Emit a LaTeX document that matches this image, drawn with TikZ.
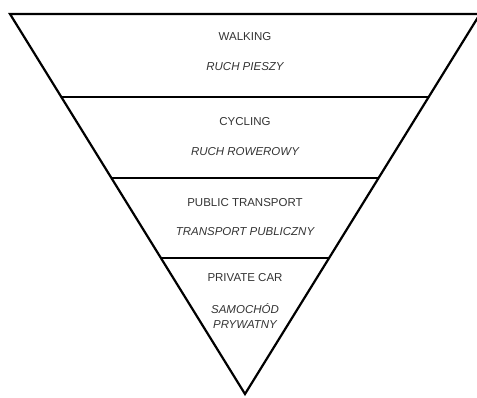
\documentclass[tikz,border=0pt]{standalone}
\usepackage{fontspec}
\setmainfont{Liberation Sans}
\usetikzlibrary{calc}

\tikzset{
	edge/.style={line width=2.2pt, black},
	en/.style={text=black!80, font=\fontsize{11.5}{13}\selectfont, inner sep=0pt},
	pl/.style={en, font=\fontsize{11.5}{15}\itshape, align=center},
}

\begin{document}
\begin{tikzpicture}[x=1pt,y=-1pt]
		\useasboundingbox (0,0) rectangle (477,397);
		% corners of the funnel
		\coordinate (TL) at (10,14);
		\coordinate (TR) at (480,14);
		\coordinate (apex) at (245,394);
		\draw[edge, line join=miter] (TL) -- (TR) -- (apex) -- cycle;
		% dividers between the levels
		\foreach \f in {0.218,0.431,0.643}
			\draw[edge] ($(TL)!\f!(apex)$) -- ($(TR)!\f!(apex)$);
		\node[en] (walk) at (245,37) {WALKING};
		\node[pl] (walkpl) at (245,67) {RUCH PIESZY};
		\node[en] (cycle) at (245,122) {CYCLING};
		\node[pl] (cyclepl) at (245,152) {RUCH ROWEROWY};
		\node[en] (public) at (245,203) {PUBLIC TRANSPORT};
		\node[pl] (publicpl) at (245,232) {TRANSPORT PUBLICZNY};
		\node[en] (car) at (245,278) {PRIVATE CAR};
		\node[pl] (carpl) at (245,316) {SAMOCHÓD\\PRYWATNY};
	\end{tikzpicture}
\end{document}
